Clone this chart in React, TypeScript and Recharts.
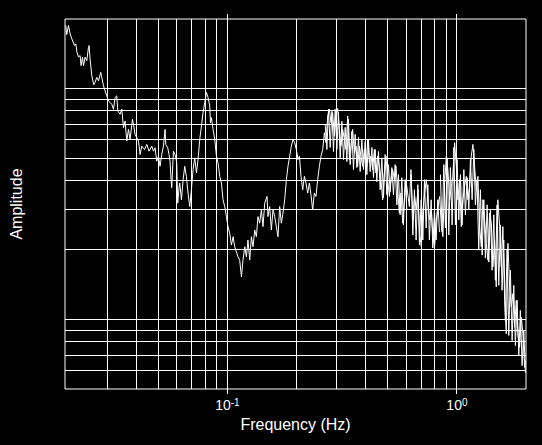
import React from 'react'
import { LineChart, Line, XAxis, YAxis, ReferenceLine, ReferenceArea } from 'recharts'

// spectrum: frequency (Hz) and amplitude, 10 points per row
const freqHz = [
  0.01975, 0.01995, 0.0203, 0.02063, 0.02099, 0.02157, 0.02185, 0.02207, 0.02244, 0.02281,
  0.02303, 0.02336, 0.0236, 0.02398, 0.02439, 0.02481, 0.02496, 0.02521, 0.02564, 0.02616,
  0.0265, 0.02696, 0.02742, 0.02806, 0.02834, 0.02884, 0.02931, 0.02981, 0.03032, 0.03082,
  0.03134, 0.03188, 0.0324, 0.03295, 0.03329, 0.03406, 0.03465, 0.03524, 0.03581, 0.03643,
  0.03705, 0.03765, 0.03856, 0.03896, 0.03959, 0.04027, 0.04097, 0.04163, 0.04234, 0.04351,
  0.04453, 0.04555, 0.04682, 0.04762, 0.04839, 0.04922, 0.05006, 0.05087, 0.05174, 0.05264,
  0.05349, 0.05386, 0.05495, 0.05567, 0.05623, 0.0568, 0.0572, 0.05818, 0.05911, 0.06014,
  0.06074, 0.06154, 0.06198, 0.06305, 0.06412, 0.06516, 0.06624, 0.06735, 0.06852, 0.06969,
  0.07083, 0.07204, 0.07328, 0.07447, 0.07575, 0.07706, 0.0783, 0.07964, 0.08101, 0.08233,
  0.08374, 0.08433, 0.08518, 0.08657, 0.08806, 0.08957, 0.09103, 0.09259, 0.09416, 0.09568,
  0.09732, 0.09899, 0.1006, 0.1023, 0.1041, 0.1059, 0.1076, 0.1094, 0.1112, 0.1131,
  0.1151, 0.1169, 0.119, 0.121, 0.1229, 0.1251, 0.1272, 0.1293, 0.1315, 0.1337,
  0.1359, 0.1382, 0.1406, 0.1429, 0.1454, 0.1488, 0.1502, 0.1528, 0.1554, 0.158,
  0.1607, 0.1634, 0.1661, 0.1689, 0.1718, 0.1746, 0.1776, 0.1807, 0.1836, 0.1867,
  0.1899, 0.193, 0.1964, 0.1997, 0.203, 0.2059, 0.2092, 0.2128, 0.2165, 0.22,
  0.2238, 0.2276, 0.2312, 0.2352, 0.2392, 0.2431, 0.2473, 0.2516, 0.2557, 0.2601,
  0.2646, 0.2688, 0.2735, 0.2782, 0.2826, 0.2875, 0.2924, 0.2972, 0.3023, 0.3075,
  0.3124, 0.3178, 0.3233, 0.3285, 0.3342, 0.3399, 0.3454, 0.3513, 0.3574, 0.3632,
  0.3694, 0.3757, 0.3818, 0.3884, 0.3951, 0.4016, 0.4084, 0.4155, 0.422, 0.4294,
  0.4367, 0.4438, 0.4514, 0.4592, 0.4667, 0.4747, 0.4829, 0.4907, 0.4993, 0.5077,
  0.516, 0.5248, 0.5338, 0.5424, 0.5517, 0.5612, 0.5704, 0.5801, 0.5902, 0.5995,
  0.6099, 0.6204, 0.6305, 0.6433, 0.6543, 0.6655, 0.6763, 0.6879, 0.6997, 0.7111,
  0.7233, 0.7357, 0.7476, 0.7604, 0.7737, 0.7861, 0.7996, 0.8133, 0.8265, 0.8409,
  0.8554, 0.869, 0.884, 0.8992, 0.9138, 0.9294, 0.9454, 0.9607, 0.9772, 0.994,
  1.01, 1.028, 1.045, 1.062, 1.08, 1.099, 1.117, 1.136, 1.155, 1.174,
  1.194, 1.215, 1.235, 1.256, 1.277, 1.298, 1.32, 1.343, 1.365, 1.388,
  1.412, 1.435, 1.459, 1.484, 1.508, 1.535, 1.561, 1.586, 1.614, 1.641,
  1.668, 1.697, 1.726, 1.754, 1.784, 1.814, 1.844, 1.876, 1.908, 1.939,
  1.972, 1.991,
]

const amplitude = [
  18.75, 17.13, 18.75, 17.25, 16.41, 15.35, 15.61, 14.41, 13.7, 13.88,
  12.56, 13.66, 12.56, 13.66, 13.2, 15.1, 15.35, 13.43, 11.36, 10.38,
  10.63, 11.18, 10.8, 11.75, 11.18, 10.27, 9.772, 9.294, 8.841, 8.701,
  8.553, 8.134, 9.146, 9.294, 7.996, 7.735, 8.134, 6.769, 7.233, 5.918,
  6.655, 6.02, 7.358, 6.999, 6.331, 6.124, 5.918, 5.181, 5.628, 5.446,
  5.726, 5.354, 5.628, 5.354, 5.54, 4.843, 5.093, 4.606, 5.181, 5.628,
  6.655, 5.726, 5.54, 5.181, 4.843, 4.031, 3.721, 5.354, 5.181, 4.779,
  3.19, 3.721, 3.899, 3.299, 4.031, 4.606, 4.167, 3.528, 3.084, 3.646,
  4.457, 5.011, 4.311, 4.926, 6.02, 6.878, 7.868, 8.701, 9.616, 9.146,
  8.408, 7.118, 7.483, 6.655, 6.02, 5.093, 4.765, 4.167, 3.899, 3.299,
  3.084, 2.79, 2.523, 2.362, 2.101, 2.283, 2.065, 1.964, 1.867, 1.807,
  1.529, 1.807, 2.065, 1.867, 2.208, 1.807, 2.283, 2.065, 2.441, 2.283,
  2.79, 2.611, 2.984, 2.523, 3.19, 3.41, 2.79, 3.084, 2.441, 2.984,
  2.79, 2.523, 2.283, 3.084, 2.611, 2.886, 3.299, 4.031, 4.606, 5.093,
  5.628, 6.02, 5.824, 5.446, 4.926, 5.093, 4.167, 3.646, 4.167, 3.899,
  3.528, 3.899, 3.468, 2.984, 3.528, 3.41, 4.031, 4.606, 5.093, 5.446,
  6.439, 5.824, 7.605, 8.134, 7.118, 7.868, 6.223, 7.605, 8.191, 6.655,
  5.628, 6.655, 6.02, 5.446, 7.605, 4.926, 5.628, 6.655, 5.27, 5.628,
  4.606, 5.628, 5.093, 4.606, 5.446, 4.457, 6.02, 4.765, 5.093, 4.457,
  5.446, 4.311, 5.093, 4.606, 4.031, 3.299, 4.311, 5.093, 4.031, 3.41,
  4.031, 4.457, 4.031, 4.606, 3.646, 2.886, 3.528, 2.611, 3.299, 4.031,
  3.528, 3.084, 4.457, 2.699, 3.41, 2.984, 3.646, 2.362, 2.065, 2.984,
  3.528, 4.031, 3.299, 2.699, 2.984, 2.283, 2.065, 2.699, 3.084, 3.41,
  2.523, 2.283, 3.899, 5.093, 4.457, 3.299, 3.77, 4.167, 5.824, 4.606,
  3.299, 4.031, 2.523, 3.299, 3.77, 4.167, 3.299, 3.77, 5.093, 5.726,
  4.606, 3.646, 4.167, 2.523, 2.065, 3.299, 2.699, 2.136, 1.807, 2.886,
  2.611, 1.69, 2.208, 1.382, 3.299, 2.523, 1.69, 2.523, 1.21, 0.866,
  2.136, 1.382, 1.131, 1.294, 0.926, 1.21, 0.866, 0.758, 1.023, 0.866,
  0.62, 0.663,
]

// the dense parts of the trace swing between upper and lower envelopes
const bandAFreq = [
  0.2667, 0.2713, 0.2757, 0.2804, 0.2852, 0.2898, 0.2948, 0.2999, 0.3047, 0.31,
  0.3153, 0.3204, 0.3259, 0.3315, 0.3368, 0.3426, 0.3485, 0.3542, 0.3602, 0.3664,
  0.3724, 0.3788, 0.3853, 0.3916, 0.3983, 0.4052, 0.4117, 0.4188, 0.426, 0.4329,
  0.4403, 0.4479, 0.4552, 0.463, 0.471, 0.4786, 0.4868, 0.4952, 0.5032, 0.5118,
  0.5206, 0.529, 0.5381, 0.5474, 0.5563, 0.5658, 0.5754, 0.5848, 0.5948, 0.605,
]
const bandAAmp = [
  6.999, 5.446, 8.134, 5.556, 7.972, 5.337, 8.134, 5.446, 7.892, 5.011,
  7.211, 4.926, 6.79, 4.828, 7.358, 4.685, 6.523, 4.457, 6.331, 4.547,
  6.142, 4.368, 6.02, 4.457, 5.901, 4.239, 6.02, 4.368, 5.556, 4.113,
  5.446, 3.952, 5.337, 3.646, 5.011, 3.365, 5.181, 3.468, 4.685, 3.573,
  4.547, 3.468, 4.685, 3.136, 4.239, 2.838, 4.113, 2.567, 4.031, 2.984,
]

const bandCFreq = [
  0.6317, 0.6426, 0.653, 0.6642, 0.6756, 0.6866, 0.6984, 0.7104, 0.7218,
  0.7343, 0.7469, 0.7589, 0.772, 0.7852, 0.798, 0.8117, 0.8257, 0.8391,
]
const bandCAmp = [
  4.239, 2.322, 3.646, 2.208, 3.834, 2.101, 3.299, 2.208, 4.031,
  2.491, 3.834, 2.208, 3.299, 2.038, 2.984, 2.208, 3.299, 2.393,
]

const bandBFreq = [
  0.8474, 0.862, 0.8768, 0.891, 0.9064, 0.922, 0.9369, 0.953, 0.9694, 0.9851,
  1.002, 1.019, 1.036, 1.053, 1.072, 1.089, 1.108, 1.127, 1.145, 1.165,
  1.185, 1.204, 1.224, 1.245, 1.266, 1.288, 1.31, 1.331, 1.354, 1.377,
  1.399, 1.423, 1.448, 1.471, 1.496, 1.522, 1.547, 1.573, 1.6, 1.626,
  1.654, 1.683, 1.71, 1.74, 1.769, 1.798, 1.829, 1.86, 1.89, 1.923,
  1.956, 1.988,
]
const bandBAmp = [
  4.239, 2.393, 4.685, 2.491, 5.011, 2.322, 4.547, 2.567, 5.556, 2.567,
  4.926, 2.699, 4.239, 2.567, 4.457, 2.838, 4.113, 2.984, 4.926, 3.299,
  5.446, 3.136, 4.031, 1.997, 3.646, 1.9, 3.299, 1.844, 3.136, 1.771,
  2.984, 1.635, 2.838, 1.479, 3.136, 1.406, 2.567, 1.338, 2.208, 0.99,
  1.997, 0.852, 1.635, 0.81, 1.406, 0.77, 1.21, 0.697, 1.094, 0.631,
  0.896, 0.588,
]

const freqDomain = [0.0196, 2]
const ampDomain = [0.5, 20]
const gridFreqs = [0.03, 0.04, 0.05, 0.06, 0.07, 0.08, 0.09, 0.1, 0.2, 0.3, 0.4, 0.5, 0.6, 0.7, 0.8, 0.9, 1]
const gridAmps = [0.6, 0.7, 0.8, 0.9, 1, 2, 3, 4, 5, 6, 7, 8, 9, 10]
const decadeTicks = [0.1, 1]
const decadeExponents = ['-1', '0']

const toRows = (fs: number[], as: number[]) => fs.map((f, i) => ({ f, amp: as[i] }))
const data = toRows(freqHz, amplitude)
const bandA = toRows(bandAFreq, bandAAmp)
const bandB = toRows(bandBFreq, bandBAmp)
const bandC = toRows(bandCFreq, bandCAmp)

const font = '"Liberation Sans", Arial, Helvetica, sans-serif'

function DecadeTick(props: any) {
  const { x, y, payload } = props
  const i = decadeTicks.indexOf(payload.value)
  return (
    <g>
      <line x1={x} x2={x} y1={y - 7} y2={y - 2} stroke="#fff" shapeRendering="crispEdges" />
      <text x={x} y={y + 14} textAnchor="middle" fill="#fff" fontSize={14} fontFamily={font}>
        <tspan>10</tspan>
        <tspan dy={-4} fontSize={10}>{decadeExponents[i]}</tspan>
      </text>
    </g>
  )
}

// short mark above the frame at each decade
function TopTick(props: any) {
  const { x, y } = props
  return <line x1={x} x2={x} y1={y + 2} y2={y + 7} stroke="#fff" shapeRendering="crispEdges" />
}

export default function App() {
  return (
    <div
      style={{
        position: 'absolute',
        left: 0,
        top: 0,
        width: 542,
        height: 445,
        background: '#000',
        fontFamily: font,
        color: '#fff',
      }}
    >
      <style>{`.recharts-reference-line line, .recharts-reference-area rect { shape-rendering: crispEdges; }`}</style>
      <LineChart
        width={542}
        height={445}
        data={data}
        margin={{ top: 9, right: 16, bottom: 26, left: 65 }}
      >
        <XAxis
          dataKey="f"
          type="number"
          scale="log"
          domain={freqDomain}
          allowDataOverflow
          ticks={decadeTicks}
          interval={0}
          height={30}
          tickSize={5}
          axisLine={false}
          tickLine={false}
          tick={<DecadeTick />}
        />
        <XAxis
          xAxisId="top"
          orientation="top"
          dataKey="f"
          type="number"
          scale="log"
          domain={freqDomain}
          allowDataOverflow
          ticks={decadeTicks}
          interval={0}
          height={10}
          tickSize={5}
          axisLine={false}
          tickLine={false}
          tick={<TopTick />}
        />
        <YAxis type="number" scale="log" domain={ampDomain} allowDataOverflow hide />
        {gridFreqs.map((v) => (
          <ReferenceLine key={'x' + v} x={v} stroke="#fff" strokeWidth={1} />
        ))}
        {gridAmps.map((v) => (
          <ReferenceLine key={'y' + v} y={v} stroke="#fff" strokeWidth={1} />
        ))}
        <ReferenceArea
          x1={freqDomain[0]}
          x2={freqDomain[1]}
          y1={ampDomain[0]}
          y2={ampDomain[1]}
          fill="none"
          fillOpacity={0}
          stroke="#fff"
          strokeWidth={1}
          strokeOpacity={1}
        />
        <Line type="linear" dataKey="amp" stroke="#fff" strokeWidth={1} dot={false} isAnimationActive={false} />
        <Line type="linear" data={bandA} dataKey="amp" stroke="#fff" strokeWidth={1} dot={false} isAnimationActive={false} />
        <Line type="linear" data={bandC} dataKey="amp" stroke="#fff" strokeWidth={1} dot={false} isAnimationActive={false} />
        <Line type="linear" data={bandB} dataKey="amp" stroke="#fff" strokeWidth={1} dot={false} isAnimationActive={false} />
      </LineChart>
      <div
        style={{
          position: 'absolute',
          left: 195.5,
          top: 416.5,
          width: 200,
          fontSize: 16,
          lineHeight: '16px',
          textAlign: 'center',
          whiteSpace: 'nowrap',
        }}
      >
        Frequency (Hz)
      </div>
      <div
        style={{
          position: 'absolute',
          left: -33.5,
          top: 196,
          width: 100,
          height: 16,
          fontSize: 16,
          lineHeight: '16px',
          textAlign: 'center',
          whiteSpace: 'nowrap',
          transform: 'rotate(-90deg)',
        }}
      >
        Amplitude
      </div>
    </div>
  )
}
